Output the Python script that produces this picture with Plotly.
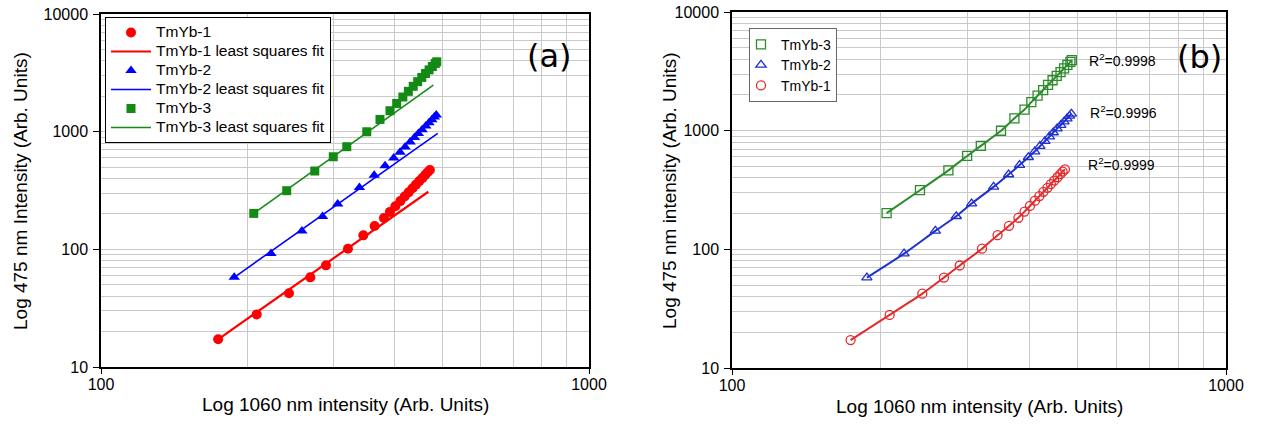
import plotly.graph_objects as go

# window size; the page margin is removed in the html so the plot fills the window
W, H = 1261, 436
OX, OY = 0, 0
FW, FH = W - 2 * OX, H - 2 * OY

# ---------------- data ----------------
tm1_x = [173.8, 208.5, 242.8, 268.5, 289.1, 320.7, 344.8, 363.7, 380.0, 391.0, 401.0,
         410.5, 419.0, 427.0, 435.0, 442.0, 449.0, 456.0, 462.0, 467.0, 472.0]
tm1_y = [17.2, 28.0, 42.3, 57.8, 73.1, 101.2, 131.5, 157.8, 184.5, 208, 232,
         257, 281, 305, 330, 355, 380, 405, 430, 452, 472]

tm2_x = [187.5, 223.0, 258.0, 284.5, 305.5, 338.5, 363.0, 382.0, 398.0, 410.0,
         420.0, 430.0, 439.0, 447.0, 455.0, 463.0, 470.0, 476.5, 482.0, 486.5]
tm2_y = [57.8, 92, 143, 190, 243, 336, 427, 513, 597, 667,
         740, 815, 890, 965, 1040, 1115, 1190, 1265, 1330, 1384]

tm3_x = [205.6, 240.2, 274.2, 299.2, 318.9, 350.4, 373.0, 391.0, 403.6, 415.5,
         426.4, 436.3, 445.6, 454.3, 462.4, 470.2, 477.5, 484.1, 487.5]
tm3_y = [202, 315, 463, 612, 745, 998, 1271, 1506, 1738, 1970,
         2200, 2430, 2660, 2890, 3120, 3350, 3580, 3800, 3926]

# least-squares straight-line fits of panel (a), end points
fit1_x = [173.8, 468.6]
fit1_y = [17.2, 308.6]
fit2_x = [187.5, 489.7]
fit2_y = [57.8, 967]
fit3_x = [205.6, 479.7]
fit3_y = [202, 2489]

r2_labels = ["R<sup>2</sup>=0.9998", "R<sup>2</sup>=0.9996", "R<sup>2</sup>=0.9999"]
x_ticks = [100, 1000]
y_ticks = [10, 100, 1000, 10000]


# ---------------- helpers: window pixel -> paper fraction ----------------
def px(x):
    return (x - OX) / FW


def py(y):
    return 1 - (y - OY) / FH


FONT = "Liberation Sans, Arial, sans-serif"
GRID = "#c9c9c9"

RED_A, BLUE_A, GREEN_A = "#ff0000", "#0000ff", "#138a13"
RED_B, BLUE_B, GREEN_B = "#e32b2b", "#1f2fd0", "#2a8c2a"


def big(txt, size):
    return f'<span style="font-size:{size}px">{txt}</span>'


fig = go.Figure()

# ---- panel (a): fit lines ----
for fx, fy, col, nm, rank, wd in [
    (fit1_x, fit1_y, RED_A, "TmYb-1 least squares fit", 2, 2.2),
    (fit2_x, fit2_y, BLUE_A, "TmYb-2 least squares fit", 4, 1.6),
    (fit3_x, fit3_y, GREEN_A, "TmYb-3 least squares fit", 6, 1.6),
]:
    fig.add_trace(go.Scatter(x=fx, y=fy, mode="lines", name=big(nm, 15.5),
                             line=dict(color=col, width=wd),
                             xaxis="x", yaxis="y", legend="legend", legendrank=rank))

# ---- panel (a): markers ----
for dx, dy, col, sym, sz, nm, rank in [
    (tm1_x, tm1_y, RED_A, "circle", 10, "TmYb-1", 1),
    (tm2_x, tm2_y, BLUE_A, "triangle-up", 10, "TmYb-2", 3),
    (tm3_x, tm3_y, GREEN_A, "square", 9, "TmYb-3", 5),
]:
    fig.add_trace(go.Scatter(x=dx, y=dy, mode="markers", name=big(nm, 15.5),
                             marker=dict(color=col, symbol=sym, size=sz),
                             xaxis="x", yaxis="y", legend="legend", legendrank=rank))

# ---- panel (b): smooth fitted curves through the data ----
for dx, dy, col in [(tm1_x, tm1_y, RED_B), (tm2_x, tm2_y, BLUE_B), (tm3_x, tm3_y, GREEN_B)]:
    fig.add_trace(go.Scatter(x=dx, y=dy, mode="lines", showlegend=False,
                             line=dict(color=col, width=2, shape="spline", smoothing=0.6),
                             xaxis="x2", yaxis="y2"))

# ---- panel (b): open markers ----
for dx, dy, col, sym, nm, rank in [
    (tm3_x, tm3_y, GREEN_B, "square-open", "TmYb-3", 1),
    (tm2_x, tm2_y, BLUE_B, "triangle-up-open", "TmYb-2", 2),
    (tm1_x, tm1_y, RED_B, "circle-open", "TmYb-1", 3),
]:
    fig.add_trace(go.Scatter(x=dx, y=dy, mode="markers", name=big(nm, 14),
                             marker=dict(color=col, symbol=sym, size=9, line=dict(width=1.3, color=col)),
                             xaxis="x2", yaxis="y2", legend="legend2", legendrank=rank))


def xax(domain, anchor):
    return dict(type="log", range=[2, 3], domain=domain, anchor=anchor, automargin=False,
                tickvals=x_ticks, ticktext=[str(v) for v in x_ticks],
                showgrid=True, gridcolor=GRID, gridwidth=1,
                minor=dict(showgrid=True, gridcolor=GRID, gridwidth=1, dtick="D1", ticks=""),
                showline=True, linecolor="black", linewidth=1.5, mirror=True,
                ticks="outside", ticklen=5, tickcolor="black", ticklabelstandoff=-3,
                ticklabeloverflow="allow",
                tickfont=dict(family=FONT, size=16, color="black"), zeroline=False)


def yax(domain, anchor):
    return dict(type="log", range=[1, 4], domain=domain, anchor=anchor, automargin=False,
                tickvals=y_ticks, ticktext=[str(v) for v in y_ticks],
                showgrid=True, gridcolor=GRID, gridwidth=1,
                minor=dict(showgrid=True, gridcolor=GRID, gridwidth=1, dtick="D1", ticks=""),
                showline=True, linecolor="black", linewidth=1.5, mirror=True,
                ticks="outside", ticklen=6, tickcolor="black", ticklabelstandoff=2,
                ticklabeloverflow="allow",
                tickfont=dict(family=FONT, size=16, color="black"), zeroline=False)


fig.update_layout(
    template="none",
    width=FW, height=FH, autosize=False,
    margin=dict(l=0, r=0, t=0, b=0, pad=0),
    paper_bgcolor="white", plot_bgcolor="white",
    font=dict(family=FONT, color="black"),
    hovermode=False,
    xaxis=xax([px(101), px(589)], "y"),
    yaxis=yax([py(367), py(14)], "x"),
    xaxis2=xax([px(732), px(1226)], "y2"),
    yaxis2=yax([py(368), py(12)], "x2"),
    legend=dict(x=px(105), y=py(17), xanchor="left", yanchor="top",
                bgcolor="white", bordercolor="black", borderwidth=1,
                font=dict(family=FONT, size=12.3, color="black"),
                tracegroupgap=0, itemwidth=40),
    legend2=dict(x=px(749), y=py(28), xanchor="left", yanchor="top",
                 bgcolor="white", bordercolor="#666666", borderwidth=1,
                 font=dict(family=FONT, size=13.5, color="black"),
                 tracegroupgap=0, itemwidth=30, indentation=-9),
    showlegend=True,
)

ann = []
# panel labels
for lab, cx, cy in [("(a)", 549, 56), ("(b)", 1199, 57)]:
    ann.append(dict(text=lab, x=px(cx), y=py(cy), xref="paper", yref="paper",
                    xanchor="center", yanchor="middle", showarrow=False,
                    font=dict(family="DejaVu Sans", size=32, color="black")))
# axis titles
for txt, cx, cy, ang in [
    ("Log 475 nm Intensity (Arb. Units)", 20, 191, -90),
    ("Log 475 nm intensity (Arb. Units)", 669, 191, -90),
    ("Log 1060 nm intensity (Arb. Units)", 345, 404, 0),
    ("Log 1060 nm intensity (Arb. Units)", 979, 406, 0),
]:
    ann.append(dict(text=txt, x=px(cx), y=py(cy), xref="paper", yref="paper",
                    xanchor="center", yanchor="middle", textangle=ang, showarrow=False,
                    font=dict(family=FONT, size=19, color="black")))
# R^2 labels next to the last point of each series
for lab, cx, cy in zip(r2_labels, [1087, 1088, 1086], [60, 112, 164]):
    ann.append(dict(text=lab, x=px(cx), y=py(cy), xref="paper", yref="paper",
                    xanchor="left", yanchor="middle", showarrow=False,
                    font=dict(family=FONT, size=14, color="black")))
fig.update_layout(annotations=ann)

fig.write_html("out.html",
               config={"displayModeBar": False, "staticPlot": False},
               post_script="document.body.style.margin='0px';document.body.style.overflow='hidden';")
